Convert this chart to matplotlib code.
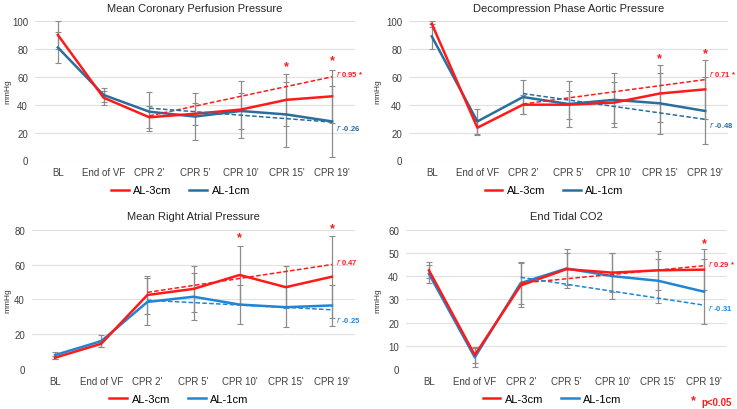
import matplotlib
matplotlib.use("Agg")
import matplotlib.pyplot as plt

plt.rcParams['font.family'] = ['Liberation Sans', 'DejaVu Sans']

labels = ['BL', 'End of VF', "CPR 2'", "CPR 5'", "CPR 10'", "CPR 15'", "CPR 19'"]

# Mean Coronary Perfusion Pressure
cpp_3 = [90, 45, 31, 33.5, 36.5, 43.5, 46]
cpp_3_sd = [10, 5, 8, 8, 20.5, 18.5, 19]
cpp_1 = [81, 47, 35, 31.5, 35.5, 33, 28]
cpp_1_sd = [11, 5, 14, 17, 13, 23, 25.5]
cpp_trend_3 = [32, 60]
cpp_trend_1 = [37.5, 27.5]

# Decompression Phase Aortic Pressure
dap_3 = [98, 23.5, 40, 40, 41.5, 48, 51]
dap_3_sd = [2, 5.5, 7, 10, 14.5, 20.5, 21]
dap_1 = [89, 28, 45.5, 40.5, 43.5, 41, 35.5]
dap_1_sd = [9, 9, 12.5, 16.5, 19.5, 22, 24]
dap_trend_3 = [40.5, 58]
dap_trend_1 = [48, 29.5]

# Mean Right Atrial Pressure
rap_3 = [6.5, 14.5, 42.5, 46, 54, 47, 53]
rap_3_sd = [1, 2, 11, 13, 16.5, 12, 23.5]
rap_1 = [8, 16, 38.5, 41.5, 37, 35.5, 36.5]
rap_1_sd = [2, 3.5, 13.5, 13.5, 11, 11.5, 12]
rap_trend_3 = [44, 60]
rap_trend_1 = [39.5, 34]

# End Tidal CO2
etc_3 = [42.5, 6, 36, 43, 41.5, 42.5, 42.8]
etc_3_sd = [3.5, 3.5, 9.5, 7, 8.5, 8.5, 8.7]
etc_1 = [41, 5, 37, 43.3, 40, 38, 33.3]
etc_1_sd = [4, 4, 9, 8.2, 10, 9.5, 14]
etc_trend_1 = [39.5, 27.5]
etc_trend_3 = [37, 44.5]

panels = [
    dict(title='Mean Coronary Perfusion Pressure', red=cpp_3, red_sd=cpp_3_sd, blue=cpp_1, blue_sd=cpp_1_sd,
         tr=cpp_trend_3, tb=cpp_trend_1, ymax=100, step=20, r_red='0.95 *', r_blue='-0.26',
         y_rr=63, y_rb=24, stars={5: 67.5, 6: 72}, blue_c='#2b6e9c', ylab_px=11,
         pos=[35, 161.5, 320, 139.5]),
    dict(title='Decompression Phase Aortic Pressure', red=dap_3, red_sd=dap_3_sd, blue=dap_1, blue_sd=dap_1_sd,
         tr=dap_trend_3, tb=dap_trend_1, ymax=100, step=20, r_red='0.71 *', r_blue='-0.48',
         y_rr=62.5, y_rb=26, stars={5: 73, 6: 77}, blue_c='#2b6e9c', ylab_px=381,
         pos=[409, 161.5, 319, 139.5]),
    dict(title='Mean Right Atrial Pressure', red=rap_3, red_sd=rap_3_sd, blue=rap_1, blue_sd=rap_1_sd,
         tr=rap_trend_3, tb=rap_trend_1, ymax=80, step=20, r_red='0.47', r_blue='-0.25',
         y_rr=61.8, y_rb=29, stars={4: 75.6, 6: 80.8}, blue_c='#1f86d6', ylab_px=11,
         pos=[32, 370, 323, 139.3]),
    dict(title='End Tidal CO2', red=etc_3, red_sd=etc_3_sd, blue=etc_1, blue_sd=etc_1_sd,
         tr=etc_trend_3, tb=etc_trend_1, ymax=60, step=10, r_red='0.29 *', r_blue='-0.31',
         y_rr=45.6, y_rb=26.8, stars={6: 54.3}, blue_c='#1f86d6', ylab_px=381,
         pos=[406, 370, 321, 139.3]),
]

red = '#ff1a1a'
x = list(range(len(labels)))
W, H = 737, 410

fig = plt.figure(figsize=(7.37, 4.10), dpi=100)

for p in panels:
    left, bottom, w, h = p['pos']
    ax = fig.add_axes([left / W, 1 - bottom / H, w / W, h / H])
    ax.errorbar(x, p['red'], yerr=p['red_sd'], fmt='none', ecolor='#8c8c8c', elinewidth=0.9, capsize=2, capthick=0.8, zorder=2)
    ax.errorbar(x, p['blue'], yerr=p['blue_sd'], fmt='none', ecolor='#8c8c8c', elinewidth=0.9, capsize=2, capthick=0.8, zorder=2)
    ax.plot(x, p['red'], color=red, lw=1.8, label='AL-3cm', zorder=4)
    ax.plot(x, p['blue'], color=p['blue_c'], lw=1.8, label='AL-1cm', zorder=3)
    ax.plot([2, 6], p['tr'], color=red, lw=1.1, ls=(0, (3, 1.5)), zorder=5)
    ax.plot([2, 6], p['tb'], color=p['blue_c'], lw=1.1, ls=(0, (3, 1.5)), zorder=5)
    ax.text(6.08, p['y_rr'], r'$\it{r}$ ' + p['r_red'], color=red, fontsize=5.5, fontweight='bold', ha='left', va='center')
    ax.text(6.08, p['y_rb'], r'$\it{r}$ ' + p['r_blue'], color=p['blue_c'], fontsize=5.5, fontweight='bold', ha='left', va='center')
    for k, v in p['stars'].items():
        ax.text(k, v, '*', color=red, fontsize=9, fontweight='bold', ha='center', va='center', clip_on=False)
    ax.set_xlim(-0.5, 6.5)
    ax.set_ylim(0, p['ymax'])
    ax.set_yticks(range(0, p['ymax'] + 1, p['step']))
    ax.set_xticks(x)
    ax.set_xticklabels(labels)
    ax.tick_params(axis='both', length=0, labelsize=7, colors='#404040', pad=5)
    ax.set_ylabel('mmHg', fontsize=6, color='#333333')
    ax.yaxis.set_label_coords((p['ylab_px'] - left) / w, 0.5)
    for s in ax.spines.values():
        s.set_visible(False)
    ax.yaxis.grid(True, color='#e0e0e0', lw=0.8)
    ax.set_axisbelow(True)
    ax.set_title(p['title'], fontsize=8, color='#262626', pad=7.5)
    ax.legend(loc='center', bbox_to_anchor=(0.455, -0.215), ncol=2, frameon=False, fontsize=8,
              handlelength=1.6, columnspacing=1.6, handletextpad=0.4)

fig.text(693/737, 1-401/410, '*', color=red, fontsize=9, fontweight='bold', ha='center', va='center')
fig.text(701/737, 1-403/410, 'p<0.05', color=red, fontsize=7, fontweight='bold', ha='left', va='center')

fig.savefig('out.png', dpi=100)
